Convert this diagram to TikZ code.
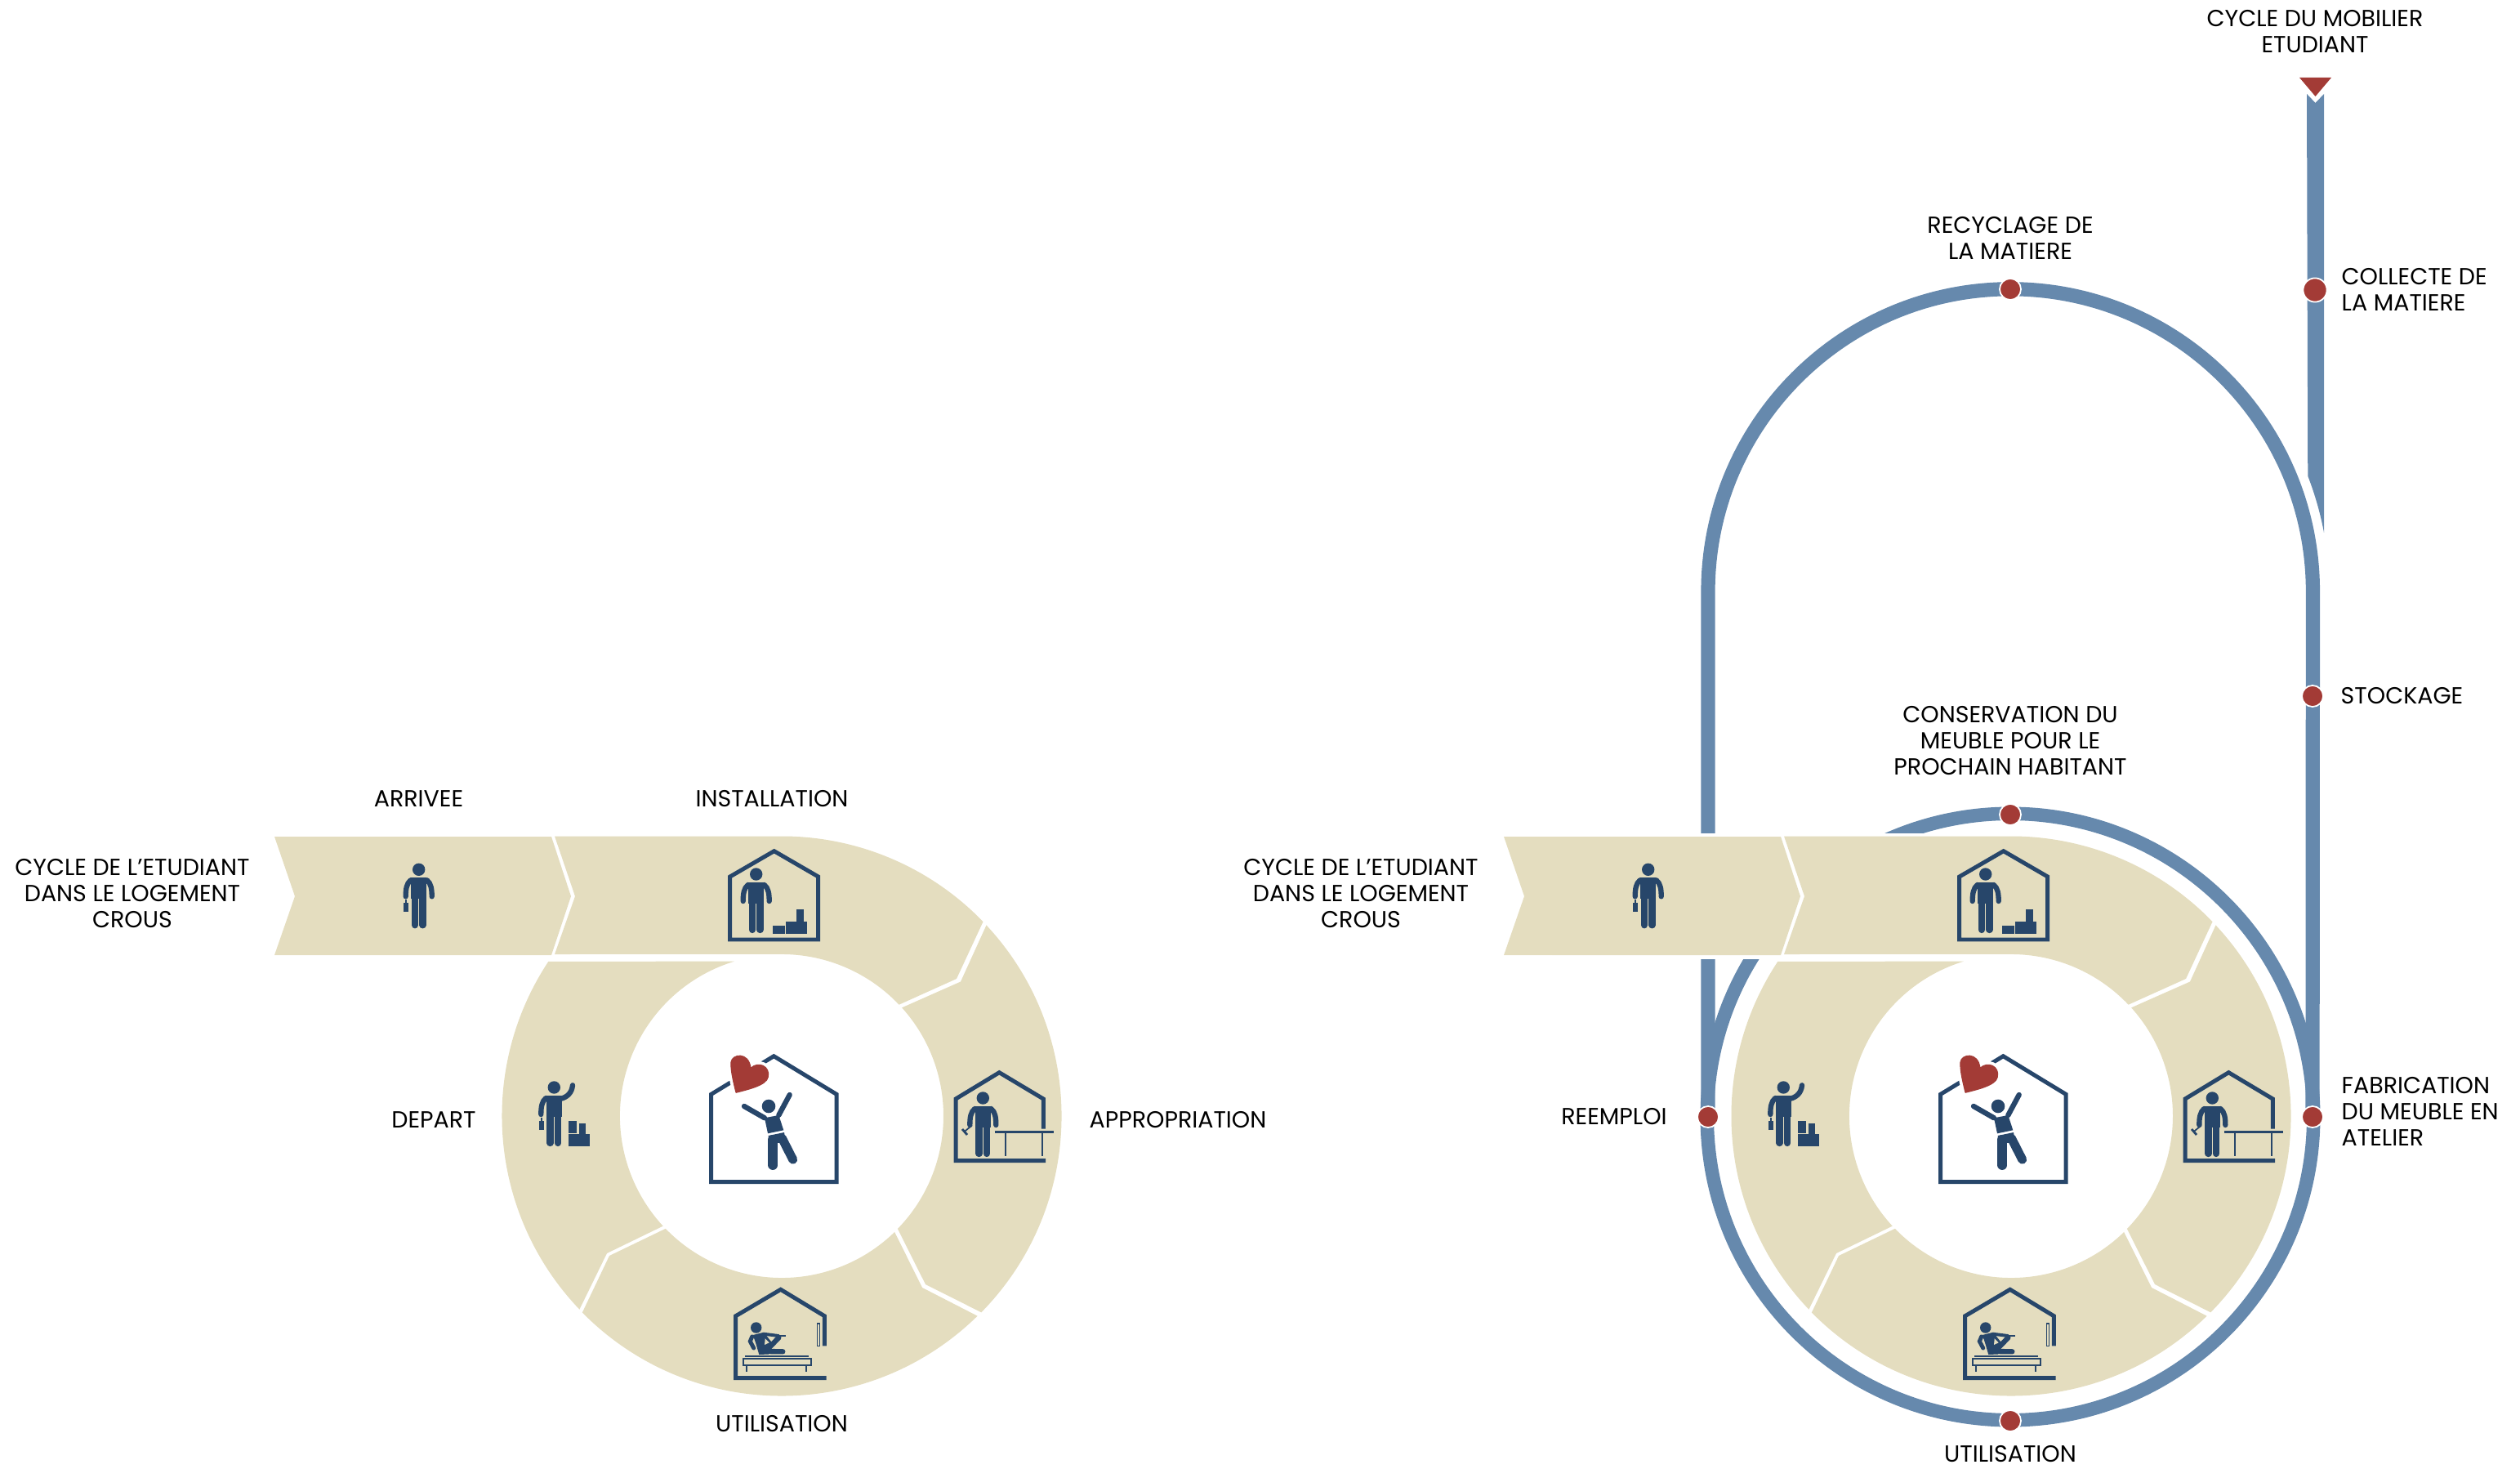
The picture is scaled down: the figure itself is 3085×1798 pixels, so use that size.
\documentclass[tikz,border=0pt]{standalone}
\usepackage{fontspec}
\setmainfont{Poppins}
\usetikzlibrary{calc}
\definecolor{sand}{HTML}{E4DDBF}
\definecolor{navy}{HTML}{27466A}
\definecolor{steel}{HTML}{6689AD}
\definecolor{brick}{HTML}{A33B36}
\tikzset{
  segment/.style={fill=sand},
  limb/.style={draw=navy,line width=1.8pt,line cap=round},
  leg/.style={draw=navy,line width=2.36pt,line cap=round},
  walls/.style={draw=navy,line width=1.42pt,line join=miter},
  track/.style={draw=steel,line width=4.9pt},
  stop/.style={circle,fill=brick,draw=white,line width=.5pt,minimum size=7.4pt,inner sep=0pt},
  lab/.style={font=\fontsize{8.1}{9.1}\selectfont,align=center,inner sep=0pt,text=black},
  figure/.pic={
    \fill [navy] (0,0) circle [radius=.077cm];
    \fill [navy] (-9.5,9.5)--(9.5,9.5)--(9.5,36)--(-9.5,36)--cycle;
    \draw [leg] (-4.7,30)--(-4.7,68);
    \draw [leg] (4.7,30)--(4.7,68);
    \draw [limb] (-10,13) .. controls (-15,17) and (-16,24) .. (-16,33);
  },
  standing/.pic={
    \pic at (0,0) {figure};
    \draw [limb] (10,13) .. controls (15,17) and (16,24) .. (16,33);
  },
  suitcase/.pic={
    \fill [navy] (-18.3,41) rectangle (-12.7,52);
    \draw [navy,line width=.5pt] (-15.5,41)--(-15.5,37);
  },
  ring/.pic={
    % the five beige pieces
    \fill [segment] (336,1024)--(675,1024)--(699,1097)--(675,1169)--(336,1169)--(361,1097)--cycle;
    \fill [segment] (679,1023.5)--(957,1023.5) arc [start angle=90,end angle=44,radius=3.425cm]
      --(1171,1198)--(1100.6,1229.7) arc [start angle=43.5,end angle=90,radius=1.98cm]
      --(679,1168)--(704,1097)--cycle;
    \fill [segment] (1207.5,1132.4) arc [start angle=43,end angle=-44.5,radius=3.425cm]
      --(1133,1572)--(1098.9,1504) arc [start angle=-44.2,end angle=42,radius=1.98cm]
      --(1176,1201.5)--cycle;
    \fill [segment] (1196.6,1610.7) arc [start angle=314.4,end angle=224.6,radius=3.425cm]
      --(746,1537)--(814.8,1503.8) arc [start angle=224.1,end angle=314.2,radius=1.98cm]
      --(1129,1576)--cycle;
    \fill [segment] (709.4,1602.7) arc [start angle=223.7,end angle=146.5,radius=3.425cm]
      --(898.8,1176.7) arc [start angle=107.1,end angle=222.8,radius=1.98cm]
      --(743,1534)--cycle;
    % arrivee
    \pic at (512.7,1064.3) {standing};
    \pic at (512.7,1064.3) {suitcase};
    % installation
    \draw [walls] (893.7,1150)--(893.7,1073)--(947.7,1041.7)--(1001.7,1073)--(1001.7,1150)--cycle;
    \pic at (925.7,1070) {standing};
    \fill [navy] (946,1133) rectangle (961,1142.7);
    \fill [navy] (961.7,1127.7) rectangle (988,1142.7);
    \fill [navy] (975,1113) rectangle (984,1128);
    % appropriation
    \draw [walls] (1277.3,1381.7)--(1277.3,1345)--(1223.3,1312.7)--(1170,1345)--(1170,1420.7)--(1280,1420.7);
    \pic at (1203.3,1344) {standing};
    \draw [navy,line width=.5pt] (1190,1377.3)--(1180.7,1385);
    \draw [navy,line width=.8pt] (1178,1382)--(1184,1389);
    \draw [navy,line width=.75pt] (1217.7,1385.7)--(1290,1385.7);
    \draw [navy,line width=.7pt] (1231,1385.7)--(1231,1415);
    \draw [navy,line width=.7pt] (1276,1385.7)--(1276,1415);
    % utilisation
    \draw [walls] (1009.3,1647.3)--(1009.3,1610.7)--(955.7,1578.3)--(900.7,1610.7)--(900.7,1686.7)--(1011.7,1686.7);
    \draw [navy,line width=.3pt] (1000.7,1620) rectangle (1003.3,1647.3);
    \fill [navy] (925.7,1625) circle [radius=.067cm];
    \fill [navy] (921.7,1634)--(935,1630.7)--(945,1643.3)--(941,1657.5)--(929.3,1658)--(925,1643.3)--cycle;
    \draw [limb,line width=1.42pt] (920.7,1636)--(918.3,1641.7)--(922.7,1650);
    \draw [limb] (939.3,1651.7)--(953.3,1637.3);
    \draw [limb] (938.3,1654)--(958.3,1654.3);
    \draw [limb,line width=1.1pt] (935,1632.7)--(953.3,1635);
    \draw [navy,line width=.4pt] (951.7,1635)--(962.3,1635);
    \fill [sand] (936.7,1638.3)--(941.7,1643.3)--(936,1646)--cycle;
    \draw [navy,line width=.6pt] (912.3,1659.7)--(990,1659.7);
    \draw [navy,line width=.6pt] (910,1662.7) rectangle (992.7,1670.7);
    \draw [navy,line width=.6pt] (914.3,1670.7)--(914.3,1679);
    \draw [navy,line width=.6pt] (986.7,1670.7)--(986.7,1679);
    % depart
    \pic at (678.3,1331) {figure};
    \pic at (678.3,1331) {suitcase};
    \draw [limb] (686,1345) .. controls (694,1343) and (700,1338) .. (701,1328.3);
    \fill [navy] (696,1372) rectangle (706,1387.3);
    \fill [navy] (709,1374.7) rectangle (717.3,1388.3);
    \fill [navy] (695.7,1388.3) rectangle (721.7,1403.3);
    % the house with the heart
    \draw [walls] (870.7,1339.3)--(947.3,1292.7)--(1024,1339.3)--(1024,1446.7)--(870.7,1446.7)--cycle;
    \filldraw [fill=brick,draw=brick,line width=.3pt,preaction={draw=white,line width=2.4pt}]
      (901,1337.3) .. controls (896.7,1320) and (894.3,1308.3) .. (895,1300)
      .. controls (896,1290) and (916.7,1286.7) .. (919,1307.3)
      .. controls (928.3,1298.3) and (943.3,1305) .. (940.3,1318.3)
      .. controls (938.3,1328.3) and (916.7,1333.3) .. (901,1337.3);
    \fill [navy] (941,1354) circle [radius=.083cm];
    \fill [navy] (936,1368.3)--(953.3,1365)--(959.3,1383.3)--(940,1387.3)--cycle;
    \draw [limb] (911,1354)--(936,1368.3);
    \draw [limb] (966.7,1340)--(953.3,1365);
    \draw [navy,line width=3.4pt,line cap=round] (946.3,1395)--(946.3,1426);
    \draw [navy,line width=3.1pt,line cap=round] (957.3,1393)--(970.7,1419.3);
    \fill [navy] (940.7,1390)--(960,1386)--(962,1398)--(941,1400)--cycle;
  }
}
\begin{document}
\begin{tikzpicture}[x=.01cm,y=-.01cm]
\useasboundingbox (0,0) rectangle (3085,1798);
\coordinate (reemploi) at (2091,1367);
\coordinate (fabrication) at (2831,1367);
% the tracks
\draw [track] (reemploi)--(2091,724) arc [start angle=180,end angle=0,radius=3.7cm]--(fabrication);
\draw [track,line width=4.7pt] (2461,1367) circle [radius=3.71cm];
\fill [steel] (2824,115)--(2834.5,126)--(2845,115)--(2845,652) arc [start angle=10.6,end angle=21.2,radius=3.9cm]--cycle;
\fill [brick] (2815,95)--(2854,95)--(2834.5,118)--cycle;
\fill [white] (1900,1020) rectangle (2461,1174);
\pic at (0,0) {ring};
\pic at (1505,0) {ring};
% the stops
\node [stop] (recyclage) at (2461,354) {};
\node [stop,minimum size=8.3pt] (collecte) at (2834,355) {};
\node [stop] (stockage) at (2831,852) {};
\node [stop] (conservation) at (2461,997) {};
\node [stop] (reemploidot) at (reemploi) {};
\node [stop] (fabricationdot) at (fabrication) {};
\node [stop] (utilisationdot) at (2461,1739) {};
% the labels
\node [lab] (arrivee) at (512.5,978) {ARRIVEE};
\node [lab] (installation) at (945,978) {INSTALLATION};
\node [lab] (etudiantA) at (162,1094) {CYCLE DE L’ETUDIANT\\DANS LE LOGEMENT\\CROUS};
\node [lab] (appropriation) at (1442,1371) {APPROPRIATION};
\node [lab] (depart) at (531,1371) {DEPART};
\node [lab] (utilisationA) at (957,1743) {UTILISATION};
\node [lab] (etudiantB) at (1666,1094) {CYCLE DE L’ETUDIANT\\DANS LE LOGEMENT\\CROUS};
\node [lab] (utilisationB) at (2461,1780) {UTILISATION};
\node [lab] (reemploilab) at (1976,1367) {REEMPLOI};
\node [lab,anchor=west,align=left] (fabricationlab) at (2866,1360) {FABRICATION\\DU MEUBLE EN\\ATELIER};
\node [lab,anchor=west] (stockagelab) at (2865,852) {STOCKAGE};
\node [lab,anchor=west,align=left] (collectelab) at (2866,354) {COLLECTE DE\\LA MATIERE};
\node [lab] (recyclagelab) at (2461,291) {RECYCLAGE DE\\LA MATIERE};
\node [lab] (conservationlab) at (2461,907) {CONSERVATION DU\\MEUBLE POUR LE\\PROCHAIN HABITANT};
\node [lab] (mobilier) at (2834,39) {CYCLE DU MOBILIER\\ETUDIANT};
\end{tikzpicture}
\end{document}
